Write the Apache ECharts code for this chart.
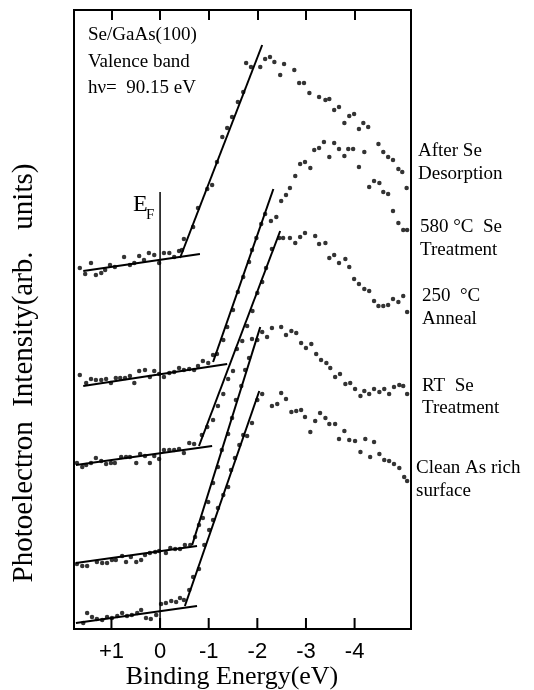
<!DOCTYPE html>
<html>
<head>
<meta charset="utf-8">
<script src="https://cdn.jsdelivr.net/npm/echarts@6/dist/echarts.min.js"></script>
<style>
  html, body { margin: 0; padding: 0; background: #fff; }
  #chart { width: 534px; height: 690px; }
</style>
</head>
<body>
<div id="chart"></div>
<script>
// binding energy axis (as labelled, +1 left ... -4 right)
const xTicks = [1, 0, -1, -2, -3, -4];
const xTickLabels = ['+1', '0', '-1', '-2', '-3', '-4'];

// [energy(eV), intensity(arb.)], top curve first
const desorpPts = [[1.65,361],[1.54,355],[1.42,366],[1.32,354],[1.21,356],[1.13,359],[1.03,364],[0.93,362],[0.74,372],[0.62,364],[0.53,366],[0.43,373],[0.33,369],[0.23,376],[0.12,374],[0.02,366],[-0.08,376],[-0.19,376],[-0.29,372],[-0.39,378],
  [-0.45,379],[-0.49,390],[-0.68,402],[-0.78,421],[-0.97,440],[-1.07,444],[-1.17,467],[-1.28,492],[-1.38,501],[-1.48,512],[-1.60,527],[-1.71,537],[-1.77,566],[-1.87,562],
  [-2.06,562],[-2.16,570],[-2.26,572],[-2.35,567],[-2.47,554],[-2.55,565],[-2.76,559],[-2.86,546],[-2.96,546],[-3.07,536],[-3.27,532],[-3.40,529],[-3.48,530],[-3.58,519],[-3.68,522],[-3.79,506],[-3.89,513],[-3.99,515],[-4.09,500],[-4.18,506],[-4.28,502],[-4.49,485],[-4.59,477],[-4.69,472],[-4.79,469],[-4.90,460],[-4.98,457],[-5.07,441]];
const sel580Pts = [[1.65,254],[1.52,246],[1.42,250],[1.32,249],[1.21,249],[1.11,250],[1.01,246],[0.91,251],[0.82,251],[0.72,251],[0.62,253],[0.53,246],[0.43,258],[0.31,259],[0.21,252],[0.12,258],[0.02,255],[-0.08,252],[-0.19,256],[-0.29,257],[-0.39,261],[-0.49,259],[-0.60,260],[-0.70,259],[-0.78,263],[-0.88,268],[-0.99,266],
  [-1.09,274],[-1.17,275],[-1.30,289],[-1.38,302],[-1.50,319],[-1.60,337],[-1.71,352],[-1.83,367],[-1.89,379],[-1.98,391],[-2.08,405],[-2.16,415],[-2.28,408],[-2.39,412],[-2.49,428],[-2.59,434],[-2.67,441],
  [-2.78,453],[-2.88,465],[-2.98,467],[-3.09,461],[-3.17,479],[-3.27,481],[-3.37,487],[-3.48,472],[-3.58,486],[-3.68,480],[-3.79,473],[-3.87,480],[-3.97,480],[-4.09,462],[-4.20,477],[-4.30,442],[-4.40,448],[-4.51,446],[-4.59,437],[-4.69,435],[-4.79,418],[-4.90,406],[-5.00,399],[-5.08,399]];
const anneal250Pts = [[1.71,166],[1.60,162],[1.52,164],[1.42,166],[1.32,171],[1.21,168],[1.11,165],[1.01,166],[0.93,166],[0.80,172],[0.70,172],[0.62,172],[0.49,166],[0.41,175],[0.31,173],[0.21,166],[0.12,173],[0.02,170],[-0.08,179],[-0.19,179],[-0.29,179],[-0.39,180],[-0.49,176],[-0.60,186],[-0.70,185],
  [-0.86,194],[-0.97,202],[-1.09,209],[-1.19,223],[-1.30,235],[-1.40,250],[-1.50,258],[-1.58,280],[-1.69,288],[-1.79,303],[-1.90,318],[-2.00,336],[-2.10,347],[-2.18,361],[-2.30,380],
  [-2.45,391],[-2.53,391],[-2.67,391],[-2.78,386],[-2.88,392],[-2.98,396],[-3.19,393],[-3.27,385],[-3.40,386],[-3.48,371],[-3.58,374],[-3.68,366],[-3.81,370],[-3.89,362],[-3.99,350],[-4.09,345],[-4.20,340],[-4.30,338],[-4.40,328],[-4.49,323],[-4.59,323],[-4.69,324],[-4.79,330],[-4.90,327],[-5.00,333],[-5.08,317]];
const rtSePts = [[1.71,65],[1.60,63],[1.50,63],[1.30,67],[1.19,66],[1.09,66],[0.99,69],[0.91,69],[0.78,73],[0.70,67],[0.60,72],[0.49,67],[0.39,69],[0.31,74],[0.21,76],[0.10,77],[0.02,78],[-0.12,76],[-0.21,81],[-0.31,80],[-0.41,80],[-0.51,84],[-0.62,84],
  [-0.72,92],[-0.80,104],[-0.88,111],[-0.99,127],[-1.09,146],[-1.19,162],[-1.27,179],[-1.40,195],[-1.48,211],[-1.56,229],[-1.67,243],[-1.75,259],[-1.83,271],[-1.89,290],[-2.00,289],
  [-2.10,297],[-2.20,292],[-2.30,301],[-2.49,302],[-2.59,294],[-2.70,298],[-2.80,296],[-2.90,286],[-3.00,281],[-3.11,285],[-3.21,275],[-3.31,269],[-3.42,266],[-3.50,261],[-3.60,252],[-3.70,255],[-3.81,245],[-3.91,246],[-4.01,240],[-4.12,233],[-4.20,238],[-4.30,235],[-4.40,240],[-4.51,237],[-4.61,240],[-4.71,235],[-4.81,242],[-4.92,244],[-5.00,243],[-5.08,235]];
const cleanPts = [[1.58,6],[1.50,16],[1.40,12],[1.30,10],[1.19,9],[1.09,12],[0.99,11],[0.88,13],[0.78,16],[0.68,13],[0.58,14],[0.47,16],[0.39,19],[0.29,11],[0.19,10],[0.08,14],[-0.02,25],[-0.12,26],[-0.23,28],[-0.33,27],[-0.41,31],[-0.49,29],
  [-0.60,39],[-0.68,52],[-0.80,60],[-0.91,84],[-1.01,99],[-1.09,109],[-1.19,121],[-1.30,134],[-1.40,142],[-1.46,159],[-1.54,171],[-1.63,184],[-1.71,194],[-1.79,193],[-1.89,206],[-2.00,229],
  [-2.10,235],[-2.30,223],[-2.41,225],[-2.49,236],[-2.59,230],[-2.70,217],[-2.80,218],[-2.90,219],[-2.98,212],[-3.09,197],[-3.19,208],[-3.29,216],[-3.40,211],[-3.48,205],[-3.60,205],[-3.68,190],[-3.79,198],[-3.89,189],[-4.01,188],[-4.12,177],[-4.22,190],[-4.32,172],[-4.40,187],[-4.51,175],[-4.61,169],[-4.71,168],[-4.81,165],[-4.92,161],[-5.02,152],[-5.08,148]];

// fitted lines: background and leading edge, end points
const desorpBase = [[1.58,358],[-0.82,375]];
const desorpEdge = [[-0.41,371],[-2.10,584]];
const sel580Base = [[1.58,243],[-1.38,265]];
const sel580Edge = [[-1.09,267],[-2.33,440]];
const anneal250Base = [[1.73,164],[-1.07,183]];
const anneal250Edge = [[-0.80,183],[-2.47,398]];
const rtSeBase = [[1.73,66],[-0.76,83]];
const rtSeEdge = [[-0.66,84],[-2.06,302]];
const cleanBase = [[1.73,6],[-0.76,23]];
const cleanEdge = [[-0.51,23],[-2.04,238]];
const fermiLine = [[0,0],[0,437]];

const curveNames = ['After Se Desorption', '580 °C Se Treatment', '250 °C Anneal', 'RT Se Treatment', 'Clean As rich surface'];

const chart = echarts.init(document.getElementById('chart'));

const serif = 'Liberation Serif';
function dots(name, data) {
  return { name: name, type: 'scatter', data: data, symbol: 'circle', symbolSize: 4.5,
    itemStyle: { color: '#000' }, silent: true };
}
function fit(data, w) {
  return { type: 'line', data: data, symbol: 'none', silent: true,
    lineStyle: { color: '#000', width: w || 2 } };
}
function label(x, y, text) {
  return { type: 'text', x: x, y: y, style: { text: text, font: '19px ' + serif, fill: '#000', verticalAlign: 'middle' } };
}

const texts = [
  // sample info, top left
  label(88, 35, 'Se/GaAs(100)'),
  label(88, 62, 'Valence band'),
  label(88, 88, 'hν=  90.15 eV'),
  // Fermi level
  { type: 'text', x: 133, y: 205, style: { text: 'E', font: '24px ' + serif, fill: '#000', verticalAlign: 'middle' } },
  { type: 'text', x: 146, y: 215, style: { text: 'F', font: '15px ' + serif, fill: '#000', verticalAlign: 'middle' } },
  // curve labels on the right
  label(418, 151, 'After Se'), label(418, 174, 'Desorption'),
  label(420, 227, '580 °C  Se'), label(420, 250, 'Treatment'),
  label(422, 296, '250  °C'), label(422, 319, 'Anneal'),
  label(422, 386, 'RT  Se'), label(422, 408, 'Treatment'),
  label(416, 468, 'Clean As rich'), label(416, 491, 'surface'),
  // axis titles
  { type: 'text', x: 232, y: 677, style: { text: 'Binding Energy(eV)', font: '26px ' + serif, fill: '#000', align: 'center', verticalAlign: 'middle' } },
  { type: 'text', x: 24, y: 373, rotation: Math.PI / 2,
    style: { text: 'Photoelectron  Intensity(arb.   units)', font: '29px ' + serif, fill: '#000', align: 'center', verticalAlign: 'middle' } }
];

chart.setOption({
  animation: false,
  backgroundColor: '#fff',
  grid: { left: 74, right: 123, top: 10, bottom: 61, show: true,
    borderColor: '#000', borderWidth: 2, containLabel: false },
  xAxis: [
    {
      type: 'value', min: -5.16, max: 1.77, inverse: true, position: 'bottom',
      axisLine: { show: true, onZero: false, lineStyle: { color: '#000', width: 2 } },
      splitLine: { show: false }, axisTick: { show: false },
      axisLabel: { customValues: xTicks.slice(), margin: 12, color: '#000',
        fontFamily: 'Liberation Sans', fontSize: 22,
        formatter: function (v) { return xTickLabels[xTicks.indexOf(v)]; } }
    },
    {
      type: 'value', min: -5.16, max: 1.77, inverse: true, position: 'top',
      axisLine: { show: true, onZero: false, lineStyle: { color: '#000', width: 2 } },
      splitLine: { show: false }, axisLabel: { show: false },
      axisTick: { show: true, inside: true, length: 10, customValues: xTicks.slice(),
        lineStyle: { color: '#000', width: 2 } }
    }
  ],
  yAxis: {
    type: 'value', min: 0, max: 619,
    axisLine: { show: false, onZero: false }, axisTick: { show: false },
    axisLabel: { show: false }, splitLine: { show: false }
  },
  series: [
    dots(curveNames[0], desorpPts), fit(desorpBase), fit(desorpEdge),
    dots(curveNames[1], sel580Pts), fit(sel580Base), fit(sel580Edge),
    dots(curveNames[2], anneal250Pts), fit(anneal250Base), fit(anneal250Edge),
    dots(curveNames[3], rtSePts), fit(rtSeBase), fit(rtSeEdge),
    dots(curveNames[4], cleanPts), fit(cleanBase), fit(cleanEdge),
    fit(fermiLine, 1.5)
  ],
  graphic: texts
});

// bottom inward ticks, placed through the energy scale
const yBottom = chart.convertToPixel({ yAxisIndex: 0 }, 0);
const bottomTicks = xTicks.map(function (v) {
  const px = chart.convertToPixel({ xAxisIndex: 0 }, v);
  return { type: 'line', z: 100, shape: { x1: px, y1: yBottom, x2: px, y2: yBottom - 11 },
    style: { stroke: '#000', lineWidth: 2 } };
});
chart.setOption({ graphic: texts.concat(bottomTicks) });
</script>
</body>
</html>
